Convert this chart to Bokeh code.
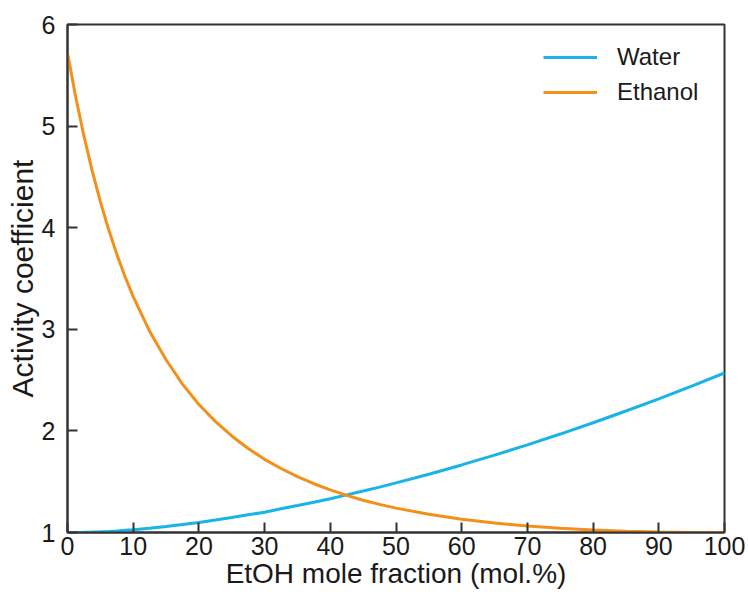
from bokeh.plotting import figure
from bokeh.models import Range1d, Legend, LegendItem, FixedTicker
from bokeh.embed import file_html
from bokeh.resources import INLINE

# EtOH mole fraction (mol.%)
x_etoh = [0, 1.25, 2.5, 3.75, 5, 6.25, 7.5, 8.75, 10, 12.5, 15, 17.5, 20,
          22.5, 25, 27.5, 30, 32.5, 35, 37.5, 40, 42.5, 45, 47.5, 50,
          55, 60, 65, 70, 75, 80, 85, 90, 95, 100]
# Activity coefficient of water
gamma_water = [1.0, 1.0005, 1.002, 1.004, 1.007, 1.011, 1.016, 1.022, 1.028,
               1.042, 1.059, 1.078, 1.099, 1.122, 1.147, 1.174, 1.20, 1.233,
               1.265, 1.298, 1.333, 1.370, 1.408, 1.447, 1.488,
               1.574, 1.665, 1.761, 1.863, 1.969, 2.08, 2.196, 2.316, 2.441,
               2.57]
# Activity coefficient of ethanol
gamma_ethanol = [5.72, 5.287, 4.903, 4.562, 4.257, 3.985, 3.740, 3.520, 3.322,
                 2.98, 2.70, 2.46, 2.26, 2.094, 1.95, 1.827, 1.72, 1.630,
                 1.55, 1.480, 1.42, 1.366, 1.318, 1.277, 1.24,
                 1.179, 1.13, 1.093, 1.064, 1.042, 1.025, 1.013, 1.006, 1.001,
                 1.0]

x_ticks = [0, 10, 20, 30, 40, 50, 60, 70, 80, 90, 100]
y_ticks = [1, 2, 3, 4, 5, 6]

FONT = "Liberation Sans"
AXIS_COLOR = "#333333"
TEXT_COLOR = "#1a1a1a"

p = figure(frame_width=657, frame_height=508,
           x_range=Range1d(0, 100), y_range=Range1d(1, 6),
           output_backend="svg", toolbar_location=None,
           min_border_left=67, min_border_top=24, min_border_right=24,
           min_border_bottom=64)

p.grid.visible = False
p.outline_line_color = AXIS_COLOR
p.outline_line_width = 2
p.outline_line_alpha = 1.0

r_w = p.line(x_etoh, gamma_water, line_color="#1AB3E8", line_width=3)
r_e = p.line(x_etoh, gamma_ethanol, line_color="#F39019", line_width=3)

for ax in (p.xaxis[0], p.yaxis[0]):
    ax.axis_line_color = AXIS_COLOR
    ax.axis_line_width = 2
    ax.major_tick_line_color = AXIS_COLOR
    ax.major_tick_line_width = 2
    ax.major_tick_in = 10
    ax.major_tick_out = 0
    ax.minor_tick_line_color = None
    ax.major_label_text_font = FONT
    ax.major_label_text_font_size = "25px"
    ax.major_label_text_color = TEXT_COLOR
    ax.axis_label_text_font = FONT
    ax.axis_label_text_font_style = "normal"
    ax.axis_label_text_color = TEXT_COLOR

p.xaxis.ticker = FixedTicker(ticks=x_ticks)
p.yaxis.ticker = FixedTicker(ticks=y_ticks)
p.xaxis.axis_label = "EtOH mole fraction (mol.%)"
p.yaxis.axis_label = "Activity coefficient"
p.xaxis.axis_label_text_font_size = "28px"
p.yaxis.axis_label_text_font_size = "30px"
p.xaxis.major_label_standoff = 4
p.xaxis.axis_label_standoff = 0
p.yaxis.major_label_standoff = 12
p.yaxis.axis_label_standoff = 0

legend = Legend(items=[LegendItem(label="Water", renderers=[r_w]),
                       LegendItem(label="Ethanol", renderers=[r_e])],
                location=(476, 426))
legend.border_line_color = None
legend.background_fill_alpha = 0
legend.label_text_font = FONT
legend.label_text_font_size = "24px"
legend.label_text_color = TEXT_COLOR
legend.glyph_width = 54
legend.glyph_height = 28
legend.label_height = 28
legend.label_standoff = 20
legend.spacing = 7
legend.margin = 0
legend.padding = 0
p.add_layout(legend)

open("out.html", "w").write(file_html(p, INLINE))
